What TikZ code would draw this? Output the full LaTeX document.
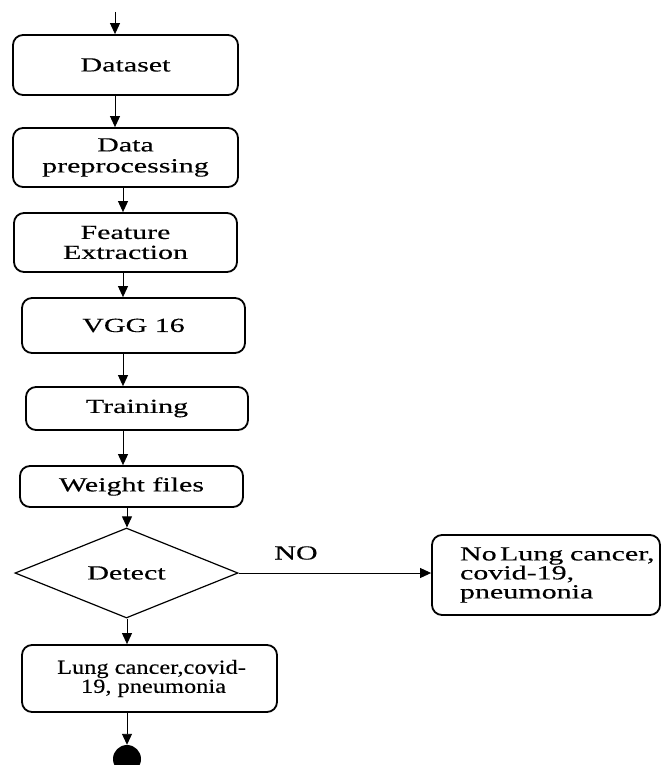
\documentclass[tikz,border=0pt]{standalone}
\usepackage{fontspec}
\setmainfont{Liberation Serif}[FakeStretch=1.5,FakeBold=0.3]
\newfontfamily\tightserif{Liberation Serif}[FakeStretch=1.22,FakeBold=0.3]
\usetikzlibrary{shapes.geometric,arrows.meta}
\tikzset{
  box/.style={draw, line width=1.8pt, rounded corners=10pt, align=center, inner sep=0pt,
    font=\fontsize{20}{21}\selectfont},
  arr/.style={draw, line width=0.9pt, -{Triangle[length=11pt,width=10pt]}},
  lbl/.style={font=\fontsize{20}{21}\selectfont, inner sep=0pt}
}
\begin{document}
\begin{tikzpicture}[x=1pt,y=-1pt]
\path[use as bounding box] (0,0) rectangle (662,765);
\coordinate (xa) at (115,0);
\coordinate (xb) at (123,0);
\coordinate (xc) at (127,0);
\coordinate (start) at (115,12);

\node[box, minimum width=225pt, minimum height=60pt] (dataset) at (125.5,65) {Dataset};
\node[box, minimum width=225pt, minimum height=59pt] (prep) at (125.5,157.5) {Data\\preprocessing};
\node[box, minimum width=223pt, minimum height=59pt, font=\fontsize{20}{20}\selectfont] (feat) at (125.5,242.5) {Feature\\Extraction};
\node[box, minimum width=223pt, minimum height=55pt] (vgg) at (133.5,325.5) {VGG 16};
\node[box, minimum width=222pt, minimum height=43pt] (train) at (137,408.5) {Training};
\node[box, minimum width=223pt, minimum height=41pt] (weight) at (131.5,486.5) {Weight files};
\node[draw, diamond, line width=1.2pt, aspect=2.48, minimum width=223pt, minimum height=90pt,
  inner sep=0pt, font=\fontsize{20}{21}\selectfont] (detect) at (126.5,573) {Detect};
\node[box, minimum width=255pt, minimum height=67pt, font=\tightserif\fontsize{20}{19}\selectfont] (lung) at (149.5,678.5) {\hspace*{4pt}Lung cancer,covid-\\\hspace*{8pt}19, pneumonia};
\node[box, minimum width=228pt, minimum height=80pt, align=left, text width=172pt, font=\fontsize{20}{19}\selectfont] (nolung) at (546,575)
  {\mbox{No\,Lung cancer,}\\\mbox{covid-19,}\\\mbox{pneumonia}};
\node[fill=black, circle, minimum size=28pt, inner sep=0pt] (endc) at (127,759) {};

\draw[arr] (start) -- (dataset.north -| xa);
\draw[arr] (dataset.south -| xa) -- (prep.north -| xa);
\draw[arr] (prep.south -| xb) -- (feat.north -| xb);
\draw[arr] (feat.south -| xb) -- (vgg.north -| xb);
\draw[arr] (vgg.south -| xb) -- (train.north -| xb);
\draw[arr] (train.south -| xb) -- (weight.north -| xb);
\draw[arr] (weight.south -| xc) -- (detect.north -| xc);
\draw[arr] (detect.south -| xc) -- (lung.north -| xc);
\draw[arr] (lung.south -| xc) -- (endc.north);
\draw[arr] (detect.east) -- (nolung.west |- detect.east);
\node[lbl] (no) at (296,553) {NO};
\end{tikzpicture}
\end{document}
